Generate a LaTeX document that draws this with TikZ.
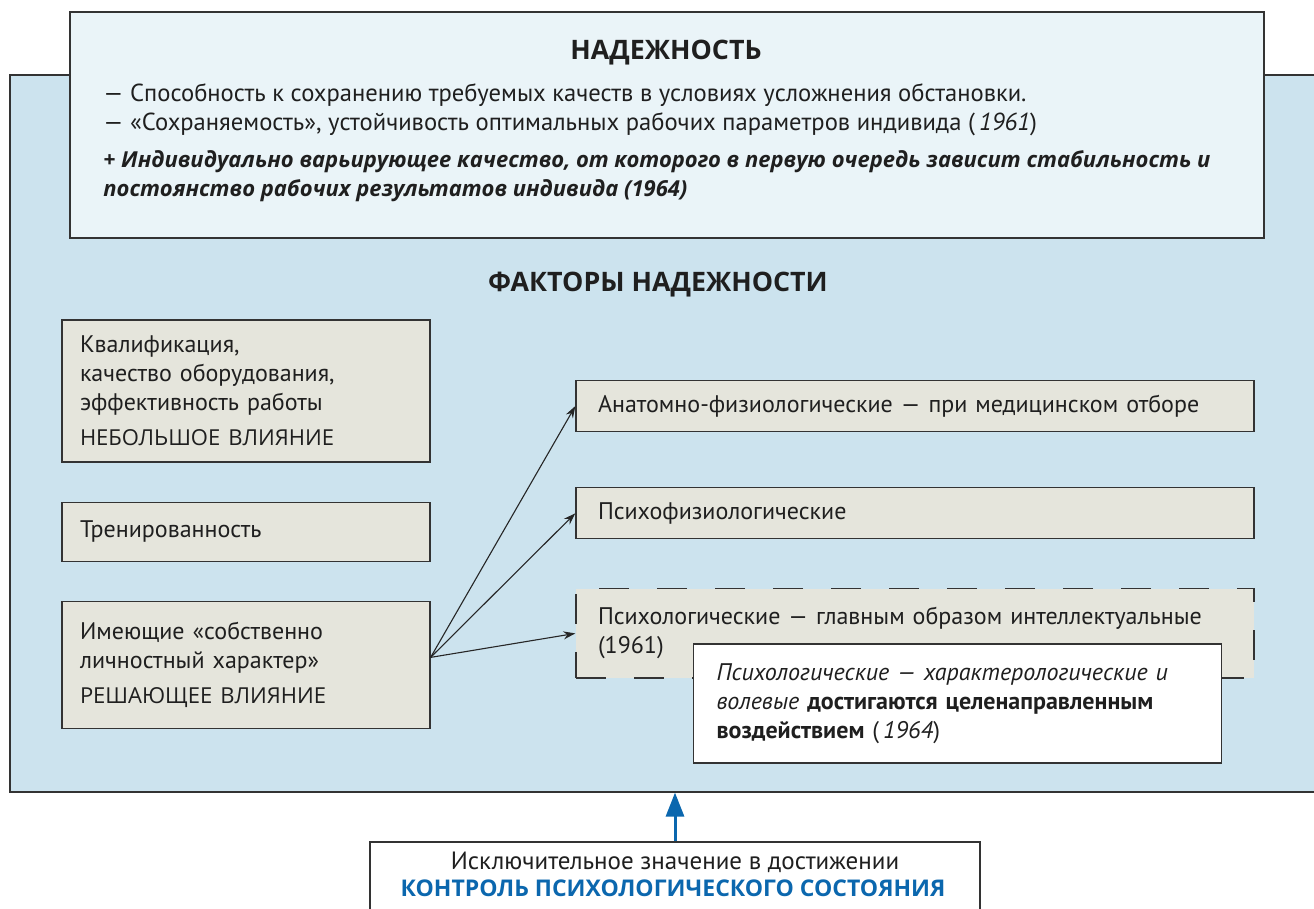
\documentclass[tikz,border=0pt]{standalone}
\usepackage{fontspec}
\setmainfont{PT Sans}
\newfontfamily\headfont{Open Sans}
\usetikzlibrary{positioning, arrows.meta, fit}

\definecolor{panelblue}{HTML}{CCE3EE}
\definecolor{toppale}{HTML}{EAF4F8}
\definecolor{factorgray}{HTML}{E5E5DC}
\definecolor{linegray}{HTML}{333333}
\definecolor{accentblue}{HTML}{0B67AE}

\newcommand{\bodyfont}{\fontsize{12}{14.5}\selectfont}
\newcommand{\capsfont}{\headfont\fontsize{11}{14.5}\selectfont}
\newcommand{\boldpart}[1]{{\bfseries #1}}

\begin{document}
\begin{tikzpicture}[x=0.5pt, y=-0.5pt,
    node distance=19.5pt,
    panel/.style={rectangle, draw=linegray, line width=0.6pt, inner sep=0pt},
    factor/.style={rectangle, draw=linegray, line width=0.6pt, fill=factorgray, align=left,
        inner xsep=9pt, inner ysep=0pt, text width=166pt, font=\bodyfont, text=black!88},
    source/.style={factor, minimum width=184pt},
    kind/.style={factor, inner xsep=11pt, text width=317pt, minimum height=25.5pt},
    heading/.style={anchor=base, inner sep=0pt, font=\headfont\bfseries\fontsize{13.4}{15}\selectfont, text=black!88},
    plain/.style={inner sep=0pt, align=left, font=\bodyfont, text=black!88},
    myarrow/.style={-{Stealth[length=6pt, width=4pt]}, line width=0.55pt, draw=black!85},
    bluearrow/.style={-{Triangle[length=12pt, width=9pt]}, line width=1.5pt, draw=accentblue}]

    \useasboundingbox (0,0) rectangle (1314,909);

    % frame and header
    \node[panel, fill=panelblue, fit={(10,75) (1330,792)}] (frame) {};
    \node[panel, fill=toppale, fit={(70,12) (1264,238)}] (header) {};
    \node[heading] (title) at (666,60) {НАДЕЖНОСТЬ};
    \node[plain, anchor=north west, font=\fontsize{12.3}{14.5}\selectfont] (defs) at (103,83)
        {— Способность к сохранению требуемых качеств в условиях усложнения обстановки.\\
         — «Сохраняемость», устойчивость оптимальных рабочих параметров индивида (\,\textit{1961})};
    \node[plain, anchor=north west, font=\headfont\fontsize{11}{14.5}\selectfont\bfseries\itshape] (plus) at (103,150)
        {+ Индивидуально варьирующее качество, от которого в первую очередь зависит стабильность и\\
         постоянство рабочих результатов индивида (1964)};

    \node[heading] (factors) at (658,292) {ФАКТОРЫ НАДЕЖНОСТИ};

    % left column
    \node[source, minimum height=71pt] (qual) at (246,391)
        {Квалификация,\\ качество оборудования,\\ эффективность работы\\[3pt] {\capsfont НЕБОЛЬШОЕ ВЛИЯНИЕ}};
    \node[source, minimum height=29.5pt, below=of qual] (train) {Тренированность};
    \node[source, minimum height=63.5pt, below=of train] (person)
        {Имеющие «собственно\\ личностный характер»\\[3pt] {\capsfont РЕШАЮЩЕЕ ВЛИЯНИЕ}};

    % right column
    \node[kind] (anatomy) at (915,406) {Анатомно-физиологические — при медицинском отборе};
    \node[kind, below=27.5pt of anatomy] (psychophys) {Психофизиологические};
    \node[kind, dashed, dash pattern=on 15pt off 14pt, minimum height=44.5pt,
        below=24.5pt of psychophys] (psych)
        {Психологические — главным образом интеллектуальные\\ (1961)\\[-4pt]};
    \node[factor, fill=white, inner xsep=11.5pt, text width=241pt, minimum height=59.5pt] (note) at (957.5,703.5)
        {\textit{Психологические — характерологические и}\\
         \textit{волевые} \boldpart{достигаются целенаправленным}\\
         \boldpart{воздействием} (\,\textit{1964})};

    \coordinate (fan) at ([yshift=3.75pt]person.east);
    \draw[myarrow] (fan) -- (anatomy.west);
    \draw[myarrow] (fan) -- (psychophys.west);
    \draw[myarrow] (fan) -- (psych.west);

    % control box
    \node[panel, fill=white, fit={(370,842) (980,940)}] (control) {};
    \node[plain, anchor=base, font=\fontsize{12.5}{14.5}\selectfont] (ctrltext) at (675,869) {Исключительное значение в достижении};
    \node[heading, font=\headfont\bfseries\fontsize{11.5}{14}\selectfont, text=accentblue] (ctrlhead) at (673,896)
        {КОНТРОЛЬ ПСИХОЛОГИЧЕСКОГО СОСТОЯНИЯ};
    \draw[bluearrow] (control.north) -- (control.north |- frame.south);
\end{tikzpicture}
\end{document}
